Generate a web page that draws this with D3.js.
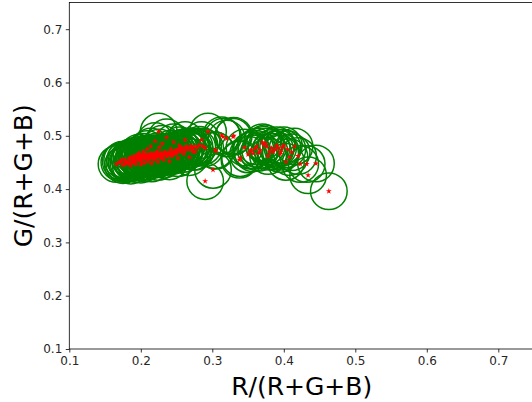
<!DOCTYPE html>
<html>
<head>
<meta charset="utf-8">
<script src="https://cdn.jsdelivr.net/npm/d3@7"></script>
<style>
  html, body { margin: 0; padding: 0; background: #ffffff; }
  svg { display: block; font-family: "DejaVu Sans", sans-serif; }
</style>
</head>
<body>
<svg id="chart" width="532" height="402"></svg>
<script>
// R/(R+G+B) values
const rRatio = [
  0.166,0.172,0.175,0.178,0.181,0.184,0.186,0.189,0.191,0.193,
  0.194,0.196,0.197,0.199,0.200,0.201,0.203,0.204,0.205,0.206,
  0.208,0.209,0.210,0.211,0.213,0.214,0.215,0.216,0.217,0.218,
  0.220,0.221,0.222,0.223,0.224,0.225,0.226,0.227,0.228,0.230,
  0.231,0.232,0.234,0.236,0.238,0.240,0.242,0.244,0.246,0.248,
  0.250,0.252,0.254,0.257,0.260,0.262,0.264,0.268,0.271,0.273,
  0.276,
  0.170,0.174,0.177,0.180,0.183,0.185,0.187,0.188,0.190,0.192,
  0.195,0.196,0.198,0.199,0.200,0.202,0.203,0.205,0.206,0.207,
  0.209,0.210,0.212,0.213,0.214,0.216,0.217,0.219,0.220,0.221,
  0.223,0.224,0.226,0.228,0.229,0.230,0.233,0.235,0.237,0.239,
  0.241,0.243,0.245,0.247,0.249,0.251,0.253,0.256,0.258,0.261,
  0.263,0.266,0.269,0.272,0.275,0.279,0.282,
  0.285,0.287,0.290,0.290,0.294,0.301,0.304,0.305,0.313,0.315,
  0.320,0.329,0.330,0.338,0.339,0.353,0.355,0.357,0.362,0.367,
  0.370,0.372,0.374,0.378,0.383,0.385,0.390,0.392,0.395,0.398,
  0.403,0.405,0.411,0.415,0.420,0.423,0.432,0.434,0.445,0.463,
  0.345,0.350,0.360,0.365,0.376,0.380,0.388,0.396,0.400,0.408
];
// G/(R+G+B) values
const gRatio = [
  0.447,0.452,0.445,0.455,0.448,0.458,0.444,0.451,0.462,0.447,
  0.461,0.455,0.468,0.458,0.446,0.452,0.461,0.470,0.449,0.457,
  0.463,0.475,0.452,0.459,0.461,0.480,0.448,0.466,0.465,0.455,
  0.490,0.459,0.464,0.471,0.451,0.508,0.478,0.465,0.458,0.485,
  0.465,0.455,0.470,0.497,0.465,0.452,0.476,0.462,0.488,0.468,
  0.473,0.458,0.482,0.477,0.466,0.492,0.480,0.460,0.480,0.470,
  0.470,
  0.450,0.455,0.447,0.452,0.449,0.456,0.460,0.450,0.457,0.453,
  0.459,0.463,0.455,0.460,0.464,0.458,0.462,0.466,0.459,0.463,
  0.460,0.465,0.457,0.463,0.467,0.460,0.462,0.466,0.458,0.463,
  0.467,0.461,0.464,0.468,0.462,0.466,0.463,0.468,0.461,0.466,
  0.470,0.464,0.468,0.472,0.466,0.470,0.475,0.470,0.476,0.472,
  0.478,0.474,0.479,0.475,0.480,0.478,0.483,
  0.492,0.480,0.477,0.415,0.508,0.436,0.473,0.472,0.501,0.498,
  0.495,0.498,0.500,0.455,0.458,0.472,0.473,0.467,0.480,0.473,
  0.488,0.483,0.486,0.462,0.477,0.470,0.482,0.477,0.466,0.478,
  0.451,0.475,0.469,0.480,0.462,0.447,0.447,0.426,0.448,0.396,
  0.478,0.465,0.476,0.468,0.480,0.470,0.474,0.470,0.482,0.460
];
const xTicks = [0.1, 0.2, 0.3, 0.4, 0.5, 0.6, 0.7];
const yTicks = [0.1, 0.2, 0.3, 0.4, 0.5, 0.6, 0.7];
const xLabel = "R/(R+G+B)";
const yLabel = "G/(R+G+B)";

const points = rRatio.map((r, i) => ({ r: r, g: gRatio[i] }));

const svg = d3.select("#chart");
const mLeft = 69.3, mBottom = 349, mTop = 2.55, mRight = 534.05;

const x = d3.scaleLinear().domain([0.1, 0.75]).range([mLeft, mRight]);
const y = d3.scaleLinear().domain([0.1, 0.75]).range([mBottom, mTop]);

// data: circles first
const plot = svg.append("g");
plot.selectAll("circle.ring")
  .data(points)
  .join("circle")
  .attr("class", "ring")
  .attr("cx", d => x(d.r))
  .attr("cy", d => y(d.g))
  .attr("r", 18.3)
  .attr("fill", "none")
  .attr("stroke", "#008000")
  .attr("stroke-width", 1.5);

const star = d3.symbol().type(d3.symbolStar).size(11);
plot.selectAll("path.star")
  .data(points)
  .join("path")
  .attr("class", "star")
  .attr("transform", d => `translate(${x(d.r)},${y(d.g)})`)
  .attr("d", star)
  .attr("fill", "#ff0000");

// axes
const fmt = d3.format(".1f");
const xAxis = svg.append("g")
  .attr("transform", `translate(0,${mBottom})`)
  .call(d3.axisBottom(x).tickValues(xTicks).tickFormat(fmt).tickSize(3.5).tickPadding(3.5));
const yAxis = svg.append("g")
  .attr("transform", `translate(${mLeft},0)`)
  .call(d3.axisLeft(y).tickValues(yTicks).tickFormat(fmt).tickSize(3.5).tickPadding(3.5));

[xAxis, yAxis].forEach(a => {
  a.select(".domain").remove();
  a.selectAll(".tick line").attr("stroke", "#000").attr("stroke-width", 0.8);
  a.selectAll(".tick text")
    .attr("fill", "#262626")
    .style("font-size", "12px")
    .style("font-family", "'DejaVu Sans', sans-serif");
});

// spines
svg.append("rect")
  .attr("x", mLeft).attr("y", mTop)
  .attr("width", mRight - mLeft).attr("height", mBottom - mTop)
  .attr("fill", "none")
  .attr("stroke", "#000")
  .attr("stroke-width", 0.8);

// labels
svg.append("text")
  .attr("x", (mLeft + mRight) / 2)
  .attr("y", 395)
  .attr("text-anchor", "middle")
  .style("font-size", "25px")
  .attr("fill", "#000")
  .text(xLabel);

svg.append("text")
  .attr("transform", `translate(32,${(mTop + mBottom) / 2}) rotate(-90)`)
  .attr("text-anchor", "middle")
  .style("font-size", "25px")
  .attr("fill", "#000")
  .text(yLabel);
</script>
</body>
</html>
